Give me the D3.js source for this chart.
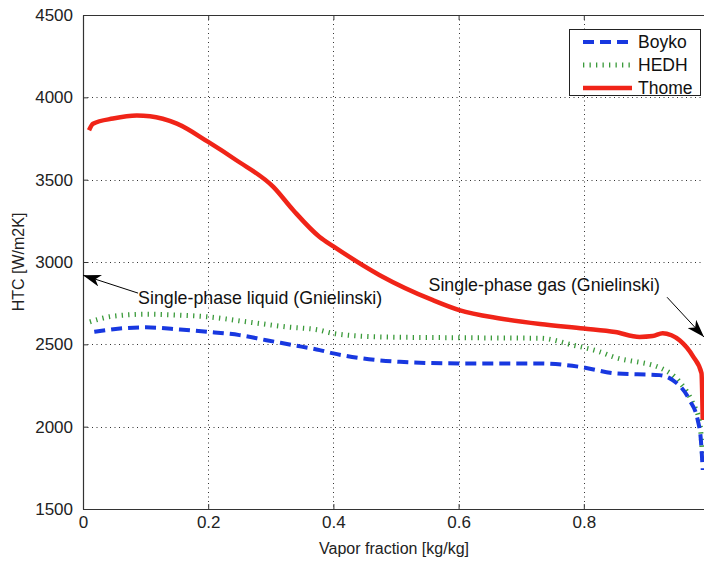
<!DOCTYPE html>
<html>
<head>
<meta charset="utf-8">
<script src="https://cdn.jsdelivr.net/npm/d3@7"></script>
<style>
  html, body { margin: 0; padding: 0; background: #fff; }
  svg { display: block; font-family: "Liberation Sans", Arial, sans-serif; }
</style>
</head>
<body>
<div id="chart"></div>
<script>
"use strict";

/* ── Data ── */
const xTicks = [0, 0.2, 0.4, 0.6, 0.8];
const yTicks = [1500, 2000, 2500, 3000, 3500, 4000, 4500];

const boykoX = [0.018, 0.059, 0.1, 0.155, 0.2, 0.25, 0.293, 0.336, 0.378, 0.4, 0.506, 0.602, 0.73, 0.794, 0.852, 0.921, 0.942, 0.969, 0.982, 0.987, 0.99];
const boykoY = [2576, 2596, 2603, 2590, 2576, 2556, 2525, 2495, 2465, 2445, 2394, 2384, 2384, 2363, 2323, 2313, 2283, 2161, 2040, 1920, 1737];

const hedhX = [0.011, 0.048, 0.1, 0.155, 0.2, 0.261, 0.325, 0.378, 0.4, 0.474, 0.6, 0.73, 0.783, 0.825, 0.847, 0.926, 0.953, 0.974, 0.985, 0.99];
const hedhY = [2637, 2671, 2683, 2677, 2667, 2637, 2606, 2586, 2566, 2545, 2540, 2537, 2495, 2455, 2424, 2350, 2272, 2143, 2030, 1800];

const thomeX = [0.0096, 0.016, 0.048, 0.086, 0.107, 0.15, 0.2, 0.245, 0.304, 0.336, 0.378, 0.4, 0.474, 0.559, 0.601, 0.666, 0.73, 0.8, 0.85, 0.889, 0.91, 0.926, 0.94, 0.953, 0.975, 0.988, 0.99];
const thomeY = [3800, 3840, 3871, 3889, 3885, 3840, 3729, 3618, 3456, 3314, 3152, 3095, 2920, 2768, 2708, 2657, 2623, 2596, 2575, 2545, 2550, 2568, 2555, 2525, 2424, 2325, 2040];

const seriesNames = ["Boyko", "HEDH", "Thome"];

/* annotations: [text x, text y, arrow tail x, tail y, arrow tip x, tip y] in data units */
const noteLabels = ["Single-phase liquid (Gnielinski)", "Single-phase gas (Gnielinski)"];
const notePoints = [
  [0.088, 2781, 0.088, 2811, 0, 2920],
  [0.552, 2859, 0.933, 2786, 0.992, 2544]
];

/* ── Layout ── */
const W = 704, H = 565;
const m = { top: 15, left: 83, right: 709, bottom: 509 };

const x = d3.scaleLinear().domain([0, 1]).range([m.left, m.right]);
const y = d3.scaleLinear().domain([1500, 4500]).range([m.bottom, m.top]);

const svg = d3.select("#chart").append("svg")
  .attr("width", W).attr("height", H);

const defs = svg.append("defs");
defs.append("marker")
  .attr("id", "arrow")
  .attr("viewBox", "0 0 18 12")
  .attr("refX", 18).attr("refY", 6)
  .attr("markerWidth", 18).attr("markerHeight", 12)
  .attr("markerUnits", "userSpaceOnUse")
  .attr("orient", "auto")
  .append("path")
  .attr("d", "M0,0 L18,6 L0,12 L5,6 Z")
  .attr("fill", "#000");

/* ── Grid ── */
const grid = svg.append("g").attr("stroke", "#333").attr("stroke-width", 1)
  .attr("stroke-dasharray", "1,3.5");
grid.selectAll("line.gx").data(xTicks.filter(d => d > 0)).join("line")
  .attr("x1", d => Math.round(x(d)) + 0.5).attr("x2", d => Math.round(x(d)) + 0.5)
  .attr("y1", m.top).attr("y2", m.bottom);
grid.selectAll("line.gy").data(yTicks.filter(d => d > 1500 && d < 4500)).join("line")
  .attr("class", "gy")
  .attr("x1", m.left).attr("x2", m.right)
  .attr("y1", d => Math.round(y(d)) + 0.5).attr("y2", d => Math.round(y(d)) + 0.5);

/* ── Axes ── */
const xAxis = svg.append("g")
  .attr("transform", `translate(0,${m.bottom})`)
  .call(d3.axisBottom(x).tickValues(xTicks).tickSizeInner(-5).tickSizeOuter(0)
    .tickFormat(d => d === 0 ? "0" : d3.format(".1f")(d)));
xAxis.selectAll("text").attr("y", 7).attr("dy", "0.71em");

const xAxisTop = svg.append("g")
  .attr("transform", `translate(0,${m.top})`)
  .call(d3.axisTop(x).tickValues(xTicks).tickSizeInner(-5).tickSizeOuter(0).tickFormat(""));

const yAxis = svg.append("g")
  .attr("transform", `translate(${m.left},0)`)
  .call(d3.axisLeft(y).tickValues(yTicks).tickSizeInner(-5).tickSizeOuter(0)
    .tickFormat(d3.format("d")));
yAxis.selectAll("text").attr("x", -10);

[xAxis, xAxisTop, yAxis].forEach(g => {
  g.select(".domain").attr("stroke", "#333").attr("stroke-width", 1.2);
  g.selectAll(".tick line").attr("stroke", "#333");
  g.selectAll("text").attr("fill", "#222").attr("font-size", "17px")
    .attr("font-family", "'Liberation Sans', Arial, sans-serif");
});

svg.append("text")
  .attr("x", (m.left + 709) / 2 - 2).attr("y", 554)
  .attr("text-anchor", "middle").attr("fill", "#222").attr("font-size", "16px")
  .text("Vapor fraction [kg/kg]");

svg.append("text")
  .attr("transform", `translate(24,${(m.top + m.bottom) / 2}) rotate(-90)`)
  .attr("text-anchor", "middle").attr("fill", "#222").attr("font-size", "16px")
  .text("HTC [W/m2K]");

/* ── Lines ── */
const series = [
  { name: seriesNames[0], xs: boykoX, ys: boykoY, colour: "#1838e0", width: 4, dash: "11,6" },
  { name: seriesNames[1], xs: hedhX,  ys: hedhY,  colour: "#3a9a3a", width: 5, dash: "1.3,5.2" },
  { name: seriesNames[2], xs: thomeX, ys: thomeY, colour: "#f02418", width: 4.5, dash: null }
];

const line = d3.line()
  .x(d => x(d[0])).y(d => y(d[1]))
  .curve(d3.curveMonotoneX);

const plot = svg.append("g");
plot.append("clipPath").attr("id", "clip").append("rect")
  .attr("x", m.left).attr("y", m.top).attr("width", m.right - m.left).attr("height", m.bottom - m.top);

// Thome underneath, Boyko on top (as in the reference near x = 1)
[series[2], series[1], series[0]].forEach(s => {
  plot.append("path")
    .datum(s.xs.map((v, i) => [v, s.ys[i]]))
    .attr("d", line)
    .attr("fill", "none")
    .attr("stroke", s.colour)
    .attr("stroke-width", s.width)
    .attr("stroke-dasharray", s.dash)
    .attr("stroke-linejoin", "round")
    .attr("clip-path", "url(#clip)");
});

/* ── Annotations ── */
notePoints.forEach((p, i) => {
  svg.append("line")
    .attr("x1", x(p[2])).attr("y1", y(p[3]))
    .attr("x2", x(p[4])).attr("y2", y(p[5]))
    .attr("stroke", "#000").attr("stroke-width", 1)
    .attr("marker-end", "url(#arrow)");
  svg.append("text")
    .attr("x", x(p[0])).attr("y", y(p[1]))
    .attr("dy", "0.35em")
    .attr("fill", "#111").attr("font-size", "17.8px")
    .text(noteLabels[i]);
});

/* ── Legend ── */
const legend = svg.append("g").attr("transform", "translate(569,29)");
legend.append("rect")
  .attr("x", 0.5).attr("y", 0.5).attr("width", 131).attr("height", 66)
  .attr("fill", "#fff").attr("stroke", "#222").attr("stroke-width", 1);

series.forEach((s, i) => {
  const yy = 13 + i * 23;
  legend.append("line")
    .attr("x1", 14).attr("x2", 63).attr("y1", yy).attr("y2", yy)
    .attr("stroke", s.colour).attr("stroke-width", s.width)
    .attr("stroke-dasharray", s.dash);
  legend.append("text")
    .attr("x", 69).attr("y", yy).attr("dy", "0.35em")
    .attr("fill", "#111").attr("font-size", "17.5px")
    .text(s.name);
});
</script>
</body>
</html>
